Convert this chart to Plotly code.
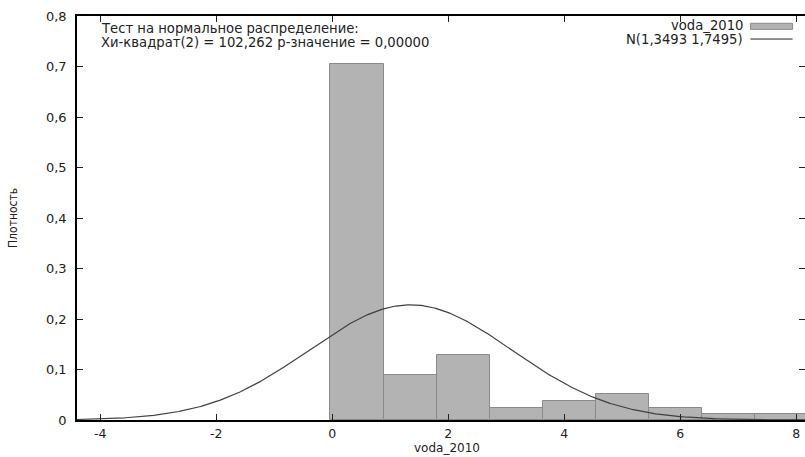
import numpy as np
import plotly.graph_objects as go

# Histogram data (density) for voda_2010
bin_left = -0.03
bin_width = 0.914
densities = [0.705, 0.089, 0.1287, 0.0244, 0.0382, 0.0507, 0.0244, 0.0111, 0.0111]
norm_mean = 1.3493
norm_sd = 1.7495

x_ticks = [-4, -2, 0, 2, 4, 6, 8]
x_tick_labels = ["-4", "-2", "0", "2", "4", "6", "8"]
y_ticks = [0, 0.1, 0.2, 0.3, 0.4, 0.5, 0.6, 0.7, 0.8]
y_tick_labels = ["0", "0,1", "0,2", "0,3", "0,4", "0,5", "0,6", "0,7", "0,8"]

centers = [bin_left + bin_width * (i + 0.5) for i in range(len(densities))]

xs = np.linspace(-4.4, 8.3, 500)
pdf = np.exp(-0.5 * ((xs - norm_mean) / norm_sd) ** 2) / (norm_sd * np.sqrt(2 * np.pi))

FONT = "DejaVu Sans"
TXT = 13.2

fig = go.Figure()
fig.add_trace(go.Bar(
    x=centers, y=densities, width=bin_width,
    marker=dict(color="#b3b3b3", line=dict(color="#8a8a8a", width=1)),
    name="voda_2010",
))
fig.add_trace(go.Scatter(
    x=xs, y=pdf, mode="lines",
    line=dict(color="#404040", width=1.2),
    name="N(1,3493 1,7495)",
))

fig.update_layout(
    width=805, height=457,
    margin=dict(l=77, r=0, t=16, b=37, autoexpand=False),
    paper_bgcolor="white", plot_bgcolor="white",
    showlegend=False,
    bargap=0,
    font=dict(family=FONT, size=12, color="#222222"),
    xaxis=dict(
        range=[-4.4, 8.15], tickvals=x_ticks, ticktext=x_tick_labels,
        ticks="inside", ticklen=6, tickcolor="#222222", ticklabelstandoff=1,
        showline=True, linecolor="#000000", linewidth=1.5, mirror="ticks",
        showgrid=False, zeroline=False, automargin=False,
        tickfont=dict(size=12.5),
    ),
    yaxis=dict(
        range=[0, 0.8], tickvals=y_ticks, ticktext=y_tick_labels,
        ticks="inside", ticklen=6, tickcolor="#222222", ticklabelstandoff=6,
        showline=True, linecolor="#000000", linewidth=1.5, mirror="ticks",
        showgrid=False, zeroline=False, automargin=False,
        tickfont=dict(size=13),
    ),
    annotations=[
        dict(text="voda_2010", xref="x", yref="paper", x=1.97, y=0, yshift=-37,
             xanchor="center", yanchor="bottom", showarrow=False, font=dict(size=12)),
        dict(text="Плотность", xref="paper", yref="paper", x=0, xshift=-64, y=0.5,
             textangle=-90, xanchor="center", yanchor="middle", showarrow=False,
             font=dict(size=12, family="DejaVu Sans Condensed")),
        dict(text="Тест на нормальное распределение:", xref="paper", yref="paper",
             x=0.03, y=0.970, xanchor="left", yanchor="middle", showarrow=False,
             font=dict(size=TXT)),
        dict(text="Хи-квадрат(2) = 102,262 p-значение = 0,00000", xref="paper", yref="paper",
             x=0.03, y=0.934, xanchor="left", yanchor="middle", showarrow=False,
             font=dict(size=TXT)),
        dict(text="voda_2010", xref="paper", yref="paper",
             x=0.918, y=0.976, xanchor="right", yanchor="middle", showarrow=False,
             font=dict(size=TXT)),
        dict(text="N(1,3493 1,7495)", xref="paper", yref="paper",
             x=0.918, y=0.942, xanchor="right", yanchor="middle", showarrow=False,
             font=dict(size=TXT)),
    ],
    shapes=[
        dict(type="rect", xref="paper", yref="paper", x0=0.925, x1=0.983, y0=0.967, y1=0.982,
             fillcolor="#b3b3b3", line=dict(color="#8a8a8a", width=1)),
        dict(type="line", xref="paper", yref="paper", x0=0.925, x1=0.983, y0=0.943, y1=0.943,
             line=dict(color="#222222", width=1)),
    ],
)

fig.write_html("out.html", config={"displayModeBar": False},
               post_script="document.body.style.margin='0';")
